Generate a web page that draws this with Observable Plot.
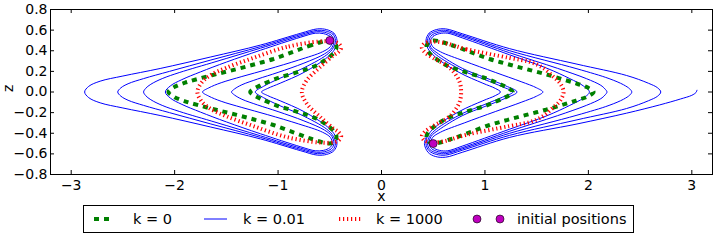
<!DOCTYPE html>
<html><head><meta charset="utf-8">
<script src="https://cdn.jsdelivr.net/npm/d3@7"></script>
<script src="https://cdn.jsdelivr.net/npm/@observablehq/plot@0.6"></script>
<style>
body{margin:0;background:#fff;font-family:"DejaVu Sans",sans-serif;}
#wrap{position:relative;width:719px;height:240px;overflow:hidden;background:#fff;}
#legend{position:absolute;left:83px;top:205px;width:549px;height:26px;border:1px solid #000;background:#fff;font-size:14.5px;line-height:26px;color:#000;}
#legend span{position:absolute;top:0;white-space:nowrap;}
#legend svg{position:absolute;left:0;top:0;}
</style></head><body><div id="wrap"></div>
<script>
// ---- tick values and labels ----
const xTicks = [-3, -2, -1, 0, 1, 2, 3];
const xTickLabels = ["−3", "−2", "−1", "0", "1", "2", "3"];
const yTicks = [-0.8, -0.6, -0.4, -0.2, 0, 0.2, 0.4, 0.6, 0.8];
const yTickLabels = ["−0.8", "−0.6", "−0.4", "−0.2", "0.0", "0.2", "0.4", "0.6", "0.8"];
const legendLabels = ["k = 0", "k = 0.01", "k = 1000", "initial positions"];

// ---- initial positions ----
const initX = [-0.5, 0.5];
const initZ = [0.5, -0.5];

// ---- k = 0.01 (blue), left side loops ----
const blueLeft1 = [[-0.475,0.50],[-0.50,0.54],[-0.56,0.566],[-0.64,0.57],[-0.78,0.532],[-1.17,0.405],[-1.50,0.29],[-1.75,0.195],[-1.93,0.12],[-2.04,0.06],[-2.09,0.0],[-2.04,-0.06],[-1.93,-0.12],[-1.75,-0.195],[-1.50,-0.29],[-1.17,-0.405],[-0.78,-0.532],[-0.64,-0.57],[-0.56,-0.566],[-0.50,-0.54],[-0.475,-0.50],[-0.495,-0.44],[-0.57,-0.39],[-0.80,-0.31],[-1.10,-0.22],[-1.35,-0.15],[-1.55,-0.09],[-1.67,-0.04],[-1.73,0.0],[-1.67,0.04],[-1.55,0.09],[-1.35,0.15],[-1.10,0.22],[-0.80,0.31],[-0.57,0.39],[-0.495,0.44]];
const blueLeft2 = [[-0.46,0.50],[-0.485,0.55],[-0.55,0.579],[-0.63,0.584],[-0.78,0.545],[-1.17,0.425],[-1.60,0.295],[-1.95,0.19],[-2.12,0.13],[-2.23,0.075],[-2.28,0.035],[-2.30,0.0],[-2.28,-0.035],[-2.23,-0.075],[-2.12,-0.13],[-1.95,-0.19],[-1.60,-0.295],[-1.17,-0.425],[-0.78,-0.545],[-0.63,-0.584],[-0.55,-0.579],[-0.485,-0.55],[-0.46,-0.50],[-0.48,-0.43],[-0.55,-0.37],[-0.75,-0.28],[-1.00,-0.19],[-1.20,-0.125],[-1.35,-0.07],[-1.42,-0.03],[-1.45,0.0],[-1.42,0.03],[-1.35,0.07],[-1.20,0.125],[-1.00,0.19],[-0.75,0.28],[-0.55,0.37],[-0.48,0.43]];
const blueLeft3 = [[-0.445,0.50],[-0.47,0.56],[-0.54,0.592],[-0.62,0.598],[-0.78,0.558],[-1.17,0.44],[-1.65,0.31],[-2.05,0.20],[-2.30,0.13],[-2.45,0.08],[-2.52,0.04],[-2.55,0.0],[-2.52,-0.04],[-2.45,-0.08],[-2.30,-0.13],[-2.05,-0.20],[-1.65,-0.31],[-1.17,-0.44],[-0.78,-0.558],[-0.62,-0.598],[-0.54,-0.592],[-0.47,-0.56],[-0.445,-0.50],[-0.465,-0.43],[-0.53,-0.36],[-0.78,-0.22],[-1.00,-0.125],[-1.14,-0.055],[-1.22,0.0],[-1.14,0.055],[-1.00,0.125],[-0.78,0.22],[-0.53,0.36],[-0.465,0.43]];
const blueLeft4 = [[-0.43,0.50],[-0.46,0.57],[-0.53,0.605],[-0.62,0.612],[-0.78,0.57],[-1.17,0.455],[-1.65,0.34],[-2.14,0.228],[-2.50,0.155],[-2.72,0.105],[-2.83,0.055],[-2.87,0.0],[-2.83,-0.055],[-2.72,-0.105],[-2.50,-0.155],[-2.14,-0.228],[-1.65,-0.34],[-1.17,-0.455],[-0.78,-0.57],[-0.62,-0.612],[-0.53,-0.605],[-0.46,-0.57],[-0.43,-0.50],[-0.45,-0.42],[-0.52,-0.34],[-0.75,-0.19],[-0.98,-0.085],[-1.10,-0.035],[-1.16,0.0],[-1.10,0.035],[-0.98,0.085],[-0.75,0.19],[-0.52,0.34],[-0.45,0.42]];

// ---- k = 0.01 (blue), right side loops and final partial swing ----
const blueRight1 = [[0.475,0.50],[0.50,0.54],[0.56,0.566],[0.64,0.57],[0.78,0.525],[1.24,0.36],[1.60,0.23],[1.82,0.13],[1.95,0.06],[2.01,0.0],[1.95,-0.06],[1.82,-0.13],[1.60,-0.23],[1.24,-0.36],[0.78,-0.525],[0.64,-0.57],[0.56,-0.566],[0.50,-0.54],[0.475,-0.50],[0.495,-0.44],[0.57,-0.39],[0.80,-0.30],[1.10,-0.19],[1.35,-0.10],[1.50,-0.04],[1.56,0.0],[1.50,0.04],[1.35,0.10],[1.10,0.19],[0.80,0.30],[0.57,0.39],[0.495,0.44]];
const blueRight2 = [[0.46,0.50],[0.485,0.55],[0.55,0.579],[0.63,0.584],[0.78,0.54],[1.24,0.38],[1.70,0.23],[1.98,0.13],[2.12,0.065],[2.16,0.03],[2.18,0.0],[2.16,-0.03],[2.12,-0.065],[1.98,-0.13],[1.70,-0.23],[1.24,-0.38],[0.78,-0.54],[0.63,-0.584],[0.55,-0.579],[0.485,-0.55],[0.46,-0.50],[0.48,-0.43],[0.55,-0.37],[0.78,-0.23],[1.00,-0.14],[1.20,-0.06],[1.31,0.0],[1.20,0.06],[1.00,0.14],[0.78,0.23],[0.55,0.37],[0.48,0.43]];
const blueRight3 = [[0.445,0.50],[0.47,0.56],[0.54,0.592],[0.62,0.598],[0.78,0.552],[1.24,0.40],[1.89,0.225],[2.20,0.13],[2.34,0.07],[2.40,0.03],[2.42,0.0],[2.40,-0.03],[2.34,-0.07],[2.20,-0.13],[1.89,-0.225],[1.24,-0.40],[0.78,-0.552],[0.62,-0.598],[0.54,-0.592],[0.47,-0.56],[0.445,-0.50],[0.465,-0.43],[0.53,-0.36],[0.78,-0.21],[1.00,-0.12],[1.17,-0.05],[1.27,0.0],[1.17,0.05],[1.00,0.12],[0.78,0.21],[0.53,0.36],[0.465,0.43]];
const blueRight4 = [[0.43,0.50],[0.46,0.57],[0.53,0.605],[0.62,0.612],[0.78,0.565],[1.24,0.42],[1.89,0.27],[2.37,0.16],[2.58,0.085],[2.67,0.04],[2.70,0.0],[2.67,-0.04],[2.58,-0.085],[2.37,-0.16],[1.89,-0.27],[1.24,-0.42],[0.78,-0.565],[0.62,-0.612],[0.53,-0.605],[0.46,-0.57],[0.43,-0.50],[0.45,-0.42],[0.52,-0.34],[0.75,-0.19],[0.98,-0.085],[1.10,-0.035],[1.15,0.0],[1.10,0.035],[0.98,0.085],[0.75,0.19],[0.52,0.34],[0.45,0.42]];
const blueRightTail = [[0.44,-0.42],[0.415,-0.50],[0.45,-0.585],[0.52,-0.625],[0.62,-0.632],[0.78,-0.585],[1.24,-0.44],[1.89,-0.31],[2.37,-0.205],[2.69,-0.125],[2.89,-0.068],[3.00,-0.032],[3.04,-0.005],[3.05,0.017]];

// ---- k = 0 (green) ----
const greenLeft = [[-0.50,0.50],[-0.674,0.456],[-0.852,0.391],[-1.045,0.32],[-1.22,0.27],[-1.40,0.222],[-1.59,0.175],[-1.77,0.128],[-1.90,0.09],[-2.00,0.05],[-2.06,0.0],[-2.00,-0.05],[-1.90,-0.09],[-1.77,-0.128],[-1.59,-0.175],[-1.40,-0.222],[-1.22,-0.27],[-1.045,-0.32],[-0.852,-0.391],[-0.674,-0.456],[-0.50,-0.50],[-0.45,-0.475],[-0.435,-0.43],[-0.47,-0.37],[-0.626,-0.26],[-0.82,-0.19],[-1.013,-0.131],[-1.17,-0.065],[-1.24,-0.028],[-1.27,0.0],[-1.24,0.028],[-1.17,0.065],[-1.013,0.131],[-0.82,0.19],[-0.626,0.26],[-0.47,0.37],[-0.435,0.43],[-0.45,0.475]];
const greenRight = [[0.50,0.50],[0.674,0.456],[0.852,0.391],[1.045,0.32],[1.22,0.27],[1.40,0.222],[1.59,0.172],[1.77,0.118],[1.89,0.08],[1.99,0.045],[2.05,0.0],[1.99,-0.045],[1.89,-0.08],[1.77,-0.118],[1.59,-0.172],[1.40,-0.222],[1.22,-0.27],[1.045,-0.32],[0.852,-0.391],[0.674,-0.456],[0.50,-0.50],[0.45,-0.475],[0.435,-0.43],[0.47,-0.37],[0.626,-0.26],[0.82,-0.19],[1.013,-0.131],[1.17,-0.065],[1.24,-0.028],[1.27,0.0],[1.24,0.028],[1.17,0.065],[1.013,0.131],[0.82,0.19],[0.626,0.26],[0.47,0.37],[0.435,0.43],[0.45,0.475]];

// ---- k = 1000 (red) ----
const redLeft = [[-0.60,0.49],[-0.916,0.437],[-1.24,0.33],[-1.50,0.235],[-1.65,0.165],[-1.74,0.09],[-1.78,0.0],[-1.74,-0.09],[-1.65,-0.165],[-1.50,-0.235],[-1.24,-0.33],[-0.916,-0.437],[-0.60,-0.49],[-0.48,-0.49],[-0.415,-0.47],[-0.39,-0.43],[-0.415,-0.39],[-0.465,-0.354],[-0.594,-0.241],[-0.723,-0.112],[-0.77,0.0],[-0.723,0.112],[-0.594,0.241],[-0.465,0.354],[-0.415,0.39],[-0.39,0.43],[-0.415,0.47],[-0.48,0.49]];
const redRight = [[0.60,0.478],[0.82,0.415],[1.24,0.33],[1.44,0.29],[1.56,0.235],[1.66,0.15],[1.73,0.08],[1.76,0.0],[1.73,-0.08],[1.66,-0.15],[1.56,-0.235],[1.44,-0.29],[1.24,-0.33],[0.82,-0.415],[0.60,-0.478],[0.48,-0.488],[0.415,-0.47],[0.39,-0.43],[0.42,-0.385],[0.50,-0.33],[0.66,-0.235],[0.75,-0.11],[0.77,0.0],[0.75,0.11],[0.66,0.235],[0.50,0.33],[0.42,0.385],[0.39,0.43],[0.415,0.47],[0.48,0.488]];

const toRows = (pts, id) => pts.map(([x, z]) => ({x, z, id}));
const blueLoops = [
  ...toRows(blueLeft1, "bl1"), ...toRows(blueLeft2, "bl2"), ...toRows(blueLeft3, "bl3"), ...toRows(blueLeft4, "bl4"),
  ...toRows(blueRight1, "br1"), ...toRows(blueRight2, "br2"), ...toRows(blueRight3, "br3"), ...toRows(blueRight4, "br4")
];
const blueTail = toRows(blueRightTail, "tail");
const greenLoops = [...toRows(greenLeft, "gl"), ...toRows(greenRight, "gr")];
const redLoops = [...toRows(redLeft, "rl"), ...toRows(redRight, "rr")];
const initRows = initX.map((x, i) => ({x, z: initZ[i]}));

const chart = Plot.plot({
  width: 719, height: 202,
  marginLeft: 50, marginRight: 7, marginTop: 9, marginBottom: 28,
  x: {domain: [-3.2, 3.2]},
  y: {domain: [-0.8, 0.8]},
  style: {fontFamily: "DejaVu Sans", fontSize: "14px", background: "white", color: "black", overflow: "visible"},
  marks: [
    Plot.line(blueLoops, {x: "x", y: "z", z: "id", stroke: "#0000ff", strokeWidth: 1, curve: "catmull-rom-closed"}),
    Plot.line(blueTail, {x: "x", y: "z", stroke: "#0000ff", strokeWidth: 1, curve: "catmull-rom"}),
    Plot.line(greenLoops, {x: "x", y: "z", z: "id", stroke: "#008000", strokeWidth: 4, strokeDasharray: "5,5", strokeLinecap: "butt", strokeLinejoin: "miter", curve: "catmull-rom-closed"}),
    Plot.line(redLoops, {x: "x", y: "z", z: "id", stroke: "#ff0000", strokeWidth: 4, strokeDasharray: "1.2,2.8", strokeLinecap: "butt", strokeLinejoin: "round", curve: "catmull-rom-closed"}),
    Plot.dot(initRows, {x: "x", y: "z", r: 4, fill: "#bf00bf", stroke: "#000", strokeWidth: 0.6}),
    Plot.frame({stroke: "black", strokeWidth: 1}),
    Plot.tickX(xTicks, {x: d => d, insetTop: 161, stroke: "black"}),
    Plot.tickX(xTicks, {x: d => d, insetBottom: 161, stroke: "black"}),
    Plot.tickY(yTicks, {y: d => d, insetRight: 658, stroke: "black"}),
    Plot.tickY(yTicks, {y: d => d, insetLeft: 658, stroke: "black"}),
    Plot.axisX(xTicks, {tickSize: 0, tickPadding: 6, tickFormat: d => xTickLabels[xTicks.indexOf(d)], label: null}),
    Plot.axisY(yTicks, {tickSize: 0, tickPadding: 3, tickFormat: d => yTickLabels[yTicks.indexOf(d)], label: null}),
    Plot.text(["x"], {text: d => d, frameAnchor: "bottom", dy: 17, lineAnchor: "top", fontSize: 14}),
    Plot.text(["z"], {text: d => d, frameAnchor: "left", dx: -42, rotate: -90, fontSize: 14})
  ]
});

const wrap = document.getElementById("wrap");
wrap.appendChild(chart);

// ---- legend (HTML below the plot) ----
const legend = document.createElement("div");
legend.id = "legend";
const ns = "http://www.w3.org/2000/svg";
const lsvg = document.createElementNS(ns, "svg");
lsvg.setAttribute("width", "549"); lsvg.setAttribute("height", "26");
function seg(x1, x2, color, w, dash) {
  const l = document.createElementNS(ns, "line");
  l.setAttribute("x1", x1); l.setAttribute("x2", x2); l.setAttribute("y1", 13); l.setAttribute("y2", 13);
  l.setAttribute("stroke", color); l.setAttribute("stroke-width", w);
  if (dash) l.setAttribute("stroke-dasharray", dash);
  lsvg.appendChild(l);
}
seg(10, 30, "#008000", 4, "5,5");
seg(120, 143, "#0000ff", 1, null);
seg(255, 278, "#ff0000", 4, "1.2,2.8");
[393, 416].forEach(cx => {
  const c = document.createElementNS(ns, "circle");
  c.setAttribute("cx", cx); c.setAttribute("cy", 13); c.setAttribute("r", 4);
  c.setAttribute("fill", "#bf00bf"); c.setAttribute("stroke", "#000"); c.setAttribute("stroke-width", 0.6);
  lsvg.appendChild(c);
});
legend.appendChild(lsvg);
[49, 159, 292, 433].forEach((left, i) => {
  const s = document.createElement("span");
  s.style.left = left + "px";
  s.textContent = legendLabels[i];
  legend.appendChild(s);
});
wrap.appendChild(legend);
</script></body></html>
